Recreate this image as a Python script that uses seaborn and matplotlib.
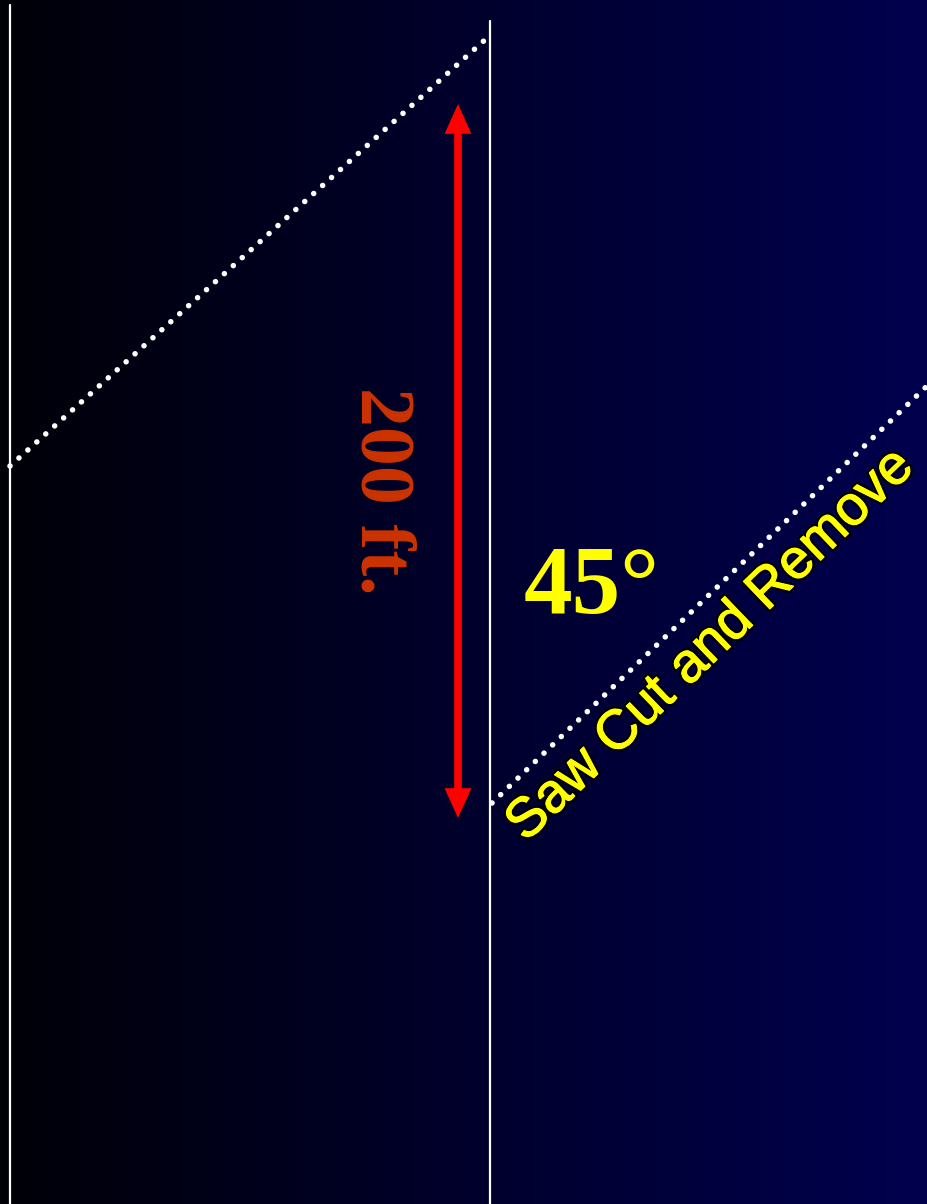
import numpy as np
import pandas as pd
import matplotlib
matplotlib.use("Agg")
import matplotlib.pyplot as plt
import matplotlib.patheffects as pe
from matplotlib.patches import FancyArrowPatch
import seaborn as sns

# --- geometria do desenho (coordenadas em pixels da imagem) ---
W, H = 928, 1204
edge_x = [10, 490]            # linhas verticais brancas
edge_top = [5, 21]
cut1_x = [10, 487]            # linha de corte pontilhada superior
cut1_y = [466, 38]
cut2_x = [492, 928]           # linha de corte pontilhada inferior
cut2_y = [803, 385]
arrow_x = 458
arrow_y = [104, 818]          # seta de 200 ft

labels = ["200 ft.", "45°", "Saw Cut and Remove"]

sns.set_style("dark")
fig = plt.figure(figsize=(W / 100, H / 100), dpi=100)
ax = fig.add_axes([0, 0, 1, 1])

# fundo em degradê (preto -> azul marinho)
grad = np.linspace(0, 1, 256)[None, :]
cmap = matplotlib.colors.LinearSegmentedColormap.from_list(
    "bg", ["#010108", "#00002c", "#00004e"])
ax.imshow(grad, extent=[0, W, H, 0], aspect="auto", cmap=cmap, zorder=0)

# linhas verticais
for x, top in zip(edge_x, edge_top):
    ax.plot([x, x], [top, H], color="white", lw=1.6, zorder=2)

# linhas pontilhadas
df1 = pd.DataFrame({"x": cut1_x, "y": cut1_y})
df2 = pd.DataFrame({"x": cut2_x, "y": cut2_y})
for d in (df1, df2):
    sns.lineplot(data=d, x="x", y="y", ax=ax, color="white", lw=4,
                 linestyle=(0, (0.01, 2.15)), dash_capstyle="round",
                 sort=False, zorder=3)

# seta dupla vermelha
arr = FancyArrowPatch((arrow_x, arrow_y[0]), (arrow_x, arrow_y[1]),
                      arrowstyle="<|-|>,head_length=0.6,head_width=0.27",
                      mutation_scale=20, color="#ff0000", lw=5.5,
                      joinstyle="miter", capstyle="butt",
                      shrinkA=0, shrinkB=0, zorder=4)
ax.add_patch(arr)

# textos
ax.text(380, 491, labels[0], rotation=-90, ha="center", va="center",
        fontsize=56, fontweight="bold", family="Liberation Serif",
        color="#cc3300", zorder=5)
ax.text(592, 590, labels[1], ha="center", va="center",
        fontsize=70, fontweight="bold", family="Liberation Serif",
        color="#ffff00", zorder=5)
ax.text(711, 646, labels[2], rotation=43.8, rotation_mode="anchor",
        ha="center", va="center", fontsize=40, family="Liberation Sans",
        color="#ffff00", zorder=5,
        path_effects=[pe.withStroke(linewidth=4, foreground="black"),
                      pe.withStroke(linewidth=0.8, foreground="#ffff00")])

ax.set_xlim(0, W)
ax.set_ylim(H, 0)
ax.set_axis_off()

fig.savefig("out.png", dpi=100)
